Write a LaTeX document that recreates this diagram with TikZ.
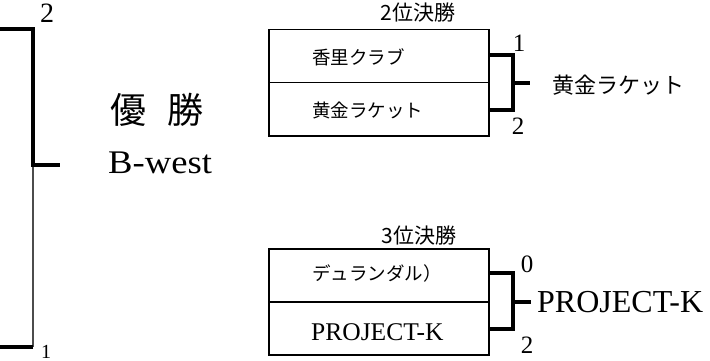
\documentclass[tikz,border=0pt]{standalone}
\usepackage{fontspec}
\setmainfont{Liberation Serif}
\newfontfamily\jp{Noto Sans CJK JP}
\begin{document}
\begin{tikzpicture}[x=1pt,y=-1pt,
  thickline/.style={line width=3.5pt},
  cell/.style={draw,line width=1.5pt,minimum width=220pt,minimum height=53pt,inner sep=0pt,anchor=north west},
  jtext/.style={inner sep=0pt,font=\jp},
  ltext/.style={inner sep=0pt}]
\useasboundingbox (0,0) rectangle (710,361);
\clip (0,0) rectangle (710,361);
% ---------- left bracket (final)
\coordinate (lt0) at (0,29);
\coordinate (lt1) at (33,29);
\coordinate (lm) at (33,165);
\coordinate (lm1) at (60,165);
\coordinate (lb1) at (33,347);
\coordinate (lb0) at (0,347);
\draw[thickline] (lt0) -- (lt1) -- (lm);
\draw[line width=1.8pt,black!70] (lm) -- (lb1);
\draw[thickline] (lb1) -- (lb0);
\draw[thickline] ([xshift=-1.75pt]lm) -- (lm1);
\node[ltext,anchor=base,font=\fontsize{28}{28}\selectfont] (ls2) at (47,23) {2};
\node[ltext,anchor=base,font=\fontsize{20}{20}\selectfont] (ls1) at (46,358) {1};
\node[jtext,font=\jp\fontsize{36}{36}\selectfont] (yu) at (128,110) {優};
\node[jtext,font=\jp\fontsize{36}{36}\selectfont] (sho) at (185,110) {勝};
\node[ltext,anchor=base west] (champ) at (108,173) {\fontsize{33}{33}\selectfont\scalebox{1.11}[1]{B-west}};
% ---------- 2nd place match
\node[cell] (a1) at (268,29) {};
\node[cell] (a2) at (268,82) {};
\node[jtext,font=\jp\fontsize{21}{21}\selectfont] (at) at (418,13) {2位決勝};
\node[jtext,anchor=west,font=\jp\fontsize{18.5}{18.5}\selectfont] (a1t) at (312,57) {香里クラブ};
\node[jtext,anchor=west,font=\jp\fontsize{18.5}{18.5}\selectfont] (a2t) at (312,110) {黄金ラケット};
\coordinate (ab1) at (513,55);
\coordinate (ab2) at (513,110);
\coordinate (abm) at (513,83);
\coordinate (abe) at (530,83);
\draw[thickline] (a1.east |- ab1) -- (ab1) -- (ab2) -- (a2.east |- ab2);
\draw[thickline] ([xshift=-1.75pt]abm) -- (abe);
\node[ltext,anchor=base,font=\fontsize{25}{25}\selectfont] (as1) at (519,52) {1};
\node[ltext,anchor=base,font=\fontsize{25}{25}\selectfont] (as2) at (518,135) {2};
\node[jtext,anchor=west,font=\jp\fontsize{22}{22}\selectfont] (aw) at (552,85) {黄金ラケット};
% ---------- 3rd place match
\node[cell] (b1) at (268,248) {};
\node[cell] (b2) at (268,301) {};
\node[jtext,font=\jp\fontsize{21}{21}\selectfont] (bt) at (419,236) {3位決勝};
\node[jtext,anchor=west,font=\jp\fontsize{18.5}{18.5}\selectfont] (b1t) at (312,273) {デュランダル）};
\node[ltext,anchor=base west] (b2t) at (311,340) {\fontsize{25.5}{25.5}\selectfont PROJECT-K};
\coordinate (bb1) at (513,273);
\coordinate (bb2) at (513,329);
\coordinate (bbm) at (513,302);
\coordinate (bbe) at (531,302);
\draw[thickline] (b1.east |- bb1) -- (bb1) -- (bb2) -- (b2.east |- bb2);
\draw[thickline] ([xshift=-1.75pt]bbm) -- (bbe);
\node[ltext,anchor=base,font=\fontsize{25}{25}\selectfont] (bs1) at (527,272) {0};
\node[ltext,anchor=base,font=\fontsize{25}{25}\selectfont] (bs2) at (527,353) {2};
\node[ltext,anchor=base west] (bw) at (537,312) {\fontsize{32}{32}\selectfont PROJECT-K};
\end{tikzpicture}
\end{document}
